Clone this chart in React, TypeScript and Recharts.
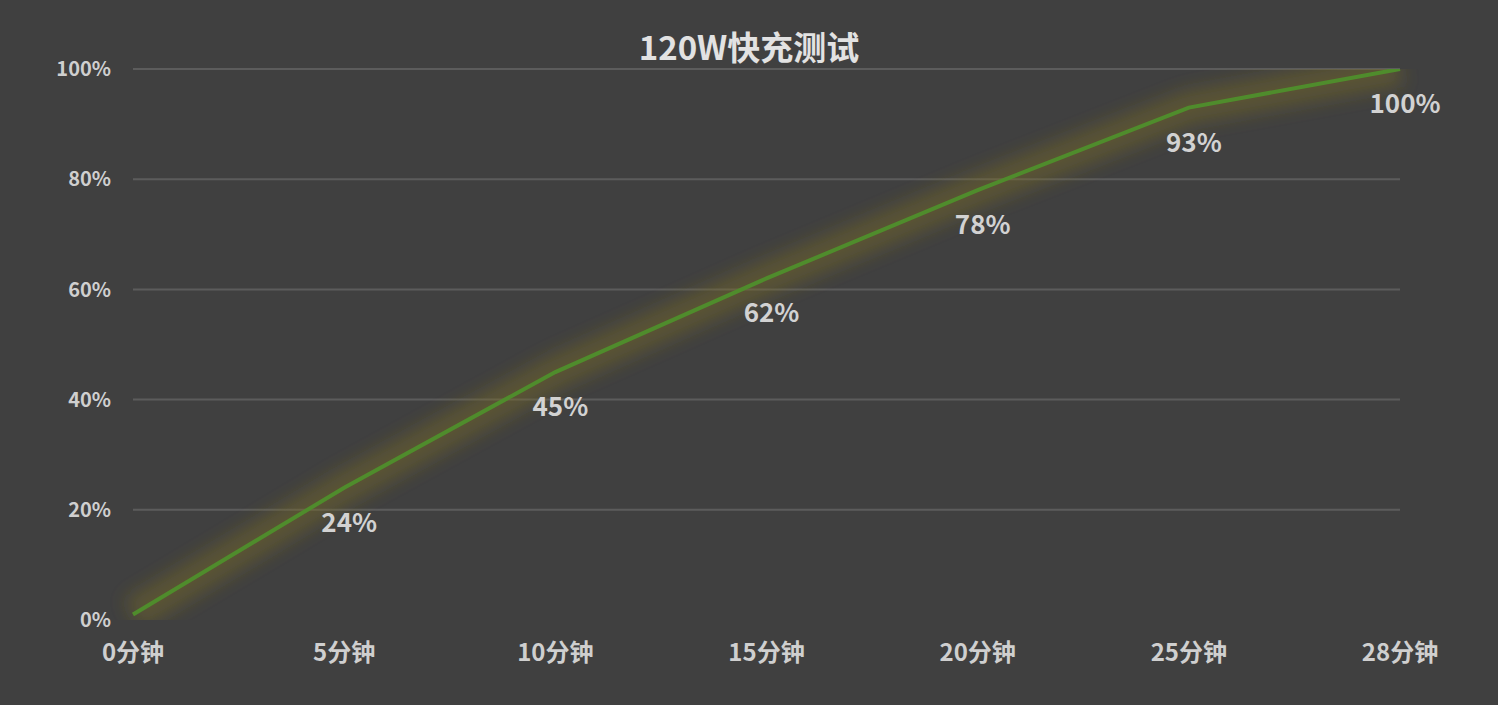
import { LineChart, Line, XAxis, YAxis, ReferenceLine } from 'recharts'

const minutes = ['0分钟', '5分钟', '10分钟', '15分钟', '20分钟', '25分钟', '28分钟']
const batteryLevel = [1, 24, 45, 62, 78, 93, 100]
const yTicks = [0, 20, 40, 60, 80, 100]

const data = minutes.map((m, i) => ({ time: m, level: batteryLevel[i] }))

const FONT = '"Noto Sans CJK SC", "Noto Sans", sans-serif'

const PointLabel = (props: any) => {
    const { x, y, value, index } = props
    if (index === 0) return <g />
    return (
        <text x={x + 5} y={y + 44} textAnchor="middle" fill="#d2d2d2" fontSize={26} fontWeight={600} fontFamily={FONT}>
            {`${value}%`}
        </text>
    )
}

export default function App() {
    return (
        <div style={{ position: 'fixed', top: 0, left: 0, width: 1498, height: 705, background: '#404040', fontFamily: FONT }}>
            <div style={{ position: 'absolute', top: 22, left: 0, width: 1498, textAlign: 'center', color: '#e2e2e2', fontSize: 33, fontWeight: 600 }}>
                120W快充测试
            </div>
            <LineChart width={1498} height={705} data={data} margin={{ top: 69, right: 98, bottom: 55, left: 0 }}>
                <defs>
                    <filter id="glow" x="-20%" y="-20%" width="140%" height="140%">
                        <feGaussianBlur stdDeviation="9" />
                    </filter>
                </defs>
                {yTicks.filter(v => v > 0).map(v => (
                    <ReferenceLine key={v} y={v} stroke="#5c5c5c" strokeWidth={2} />
                ))}
                <XAxis
                    dataKey="time"
                    height={30}
                    axisLine={false}
                    tickLine={false}
                    tickMargin={18}
                    tick={{ fill: '#cfcfcf', fontSize: 24, fontWeight: 600, fontFamily: FONT }}
                />
                <YAxis
                    width={133}
                    domain={[0, 100]}
                    ticks={yTicks}
                    allowDataOverflow
                    axisLine={false}
                    tickLine={false}
                    tickMargin={16}
                    tickFormatter={v => `${v}%`}
                    tick={{ fill: '#cfcfcf', fontSize: 20, fontWeight: 600, fontFamily: FONT }}
                />
                <Line
                    dataKey="level"
                    stroke="#7a6a24"
                    strokeWidth={34}
                    strokeOpacity={0.45}
                    filter="url(#glow)"
                    dot={false}
                    activeDot={false}
                    isAnimationActive={false}
                />
                <Line
                    dataKey="level"
                    stroke="#4f8c2c"
                    strokeWidth={4}
                    dot={false}
                    activeDot={false}
                    label={PointLabel}
                    isAnimationActive={false}
                />
            </LineChart>
        </div>
    )
}
